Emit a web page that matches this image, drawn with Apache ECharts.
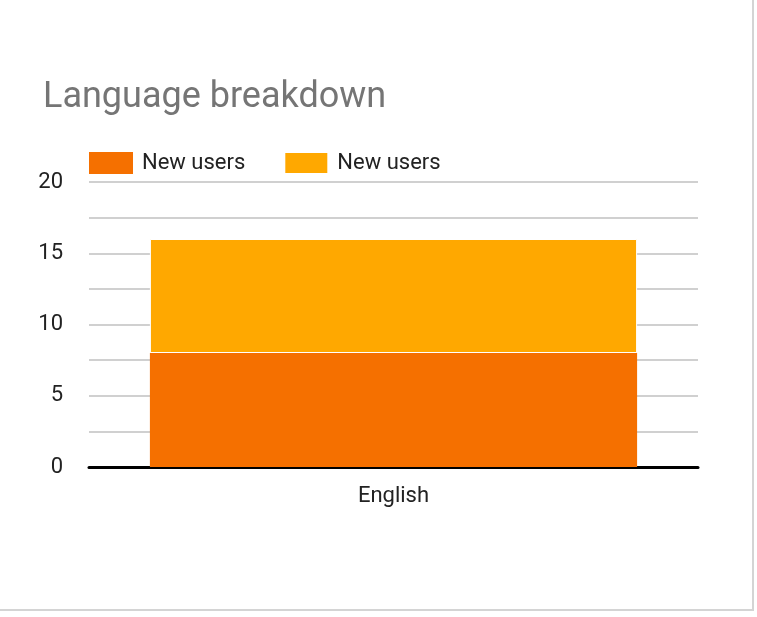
<!DOCTYPE html>
<html>
<head>
<meta charset="utf-8">
<script src="https://cdn.jsdelivr.net/npm/echarts@6/dist/echarts.min.js"></script>
<style>
  html, body { margin: 0; padding: 0; background: #fff; }
  #frame {
    position: absolute; left: 0; top: 0;
    width: 752px; height: 609px;
    border-right: 2px solid #d4d4d4;
    border-bottom: 2px solid #d4d4d4;
  }
  #chart { position: absolute; left: 0; top: 0; width: 757px; height: 617px; }
</style>
</head>
<body>
<div id="frame"></div>
<div id="chart"></div>
<script>
// data
const categories = ['English'];
const seriesLabels = ['New users', 'New users'];
const seriesColors = ['#f57000', '#ffa800'];
const seriesValues = [
    [8],   // lower segment
    [8]    // upper segment
];

const chart = echarts.init(document.getElementById('chart'));

// two series share a label, so keep the internal names distinct
const names = seriesLabels.map((s, i) => s + '#' + i);

chart.setOption({
    backgroundColor: 'transparent',
    textStyle: { fontFamily: 'Roboto' },
    title: {
        text: 'Language breakdown',
        left: 43,
        top: 80,
        padding: 0,
        textStyle: { fontSize: 36, fontWeight: 'normal', color: '#757575', fontFamily: 'Roboto' }
    },
    legend: {
        left: 89,
        top: 151,
        padding: 0,
        itemWidth: 44,
        itemHeight: 22,
        itemGap: 38,
        icon: 'rect',
        data: names,
        formatter: n => seriesLabels[names.indexOf(n)],
        textStyle: { fontSize: 22, color: '#222', padding: [2, 0, 0, 4] }
    },
    grid: { left: 89, right: 59, top: 182, bottom: 150, containLabel: false },
    xAxis: {
        type: 'category',
        data: categories,
        axisLine: { lineStyle: { color: '#000', width: 3 } },
        axisTick: { show: false },
        axisLabel: { fontSize: 22, color: '#222', margin: 18 }
    },
    yAxis: {
        type: 'value',
        min: 0,
        max: 20,
        interval: 2.5,
        axisLine: { show: false },
        axisTick: { show: false },
        axisLabel: {
            fontSize: 22, color: '#222', margin: 26,
            formatter: v => (v % 5 === 0 ? String(v) : '')
        },
        splitLine: { lineStyle: { color: '#d0d0d0', width: 2 } }
    },
    series: seriesValues.map((vals, i) => ({
        name: names[i],
        type: 'bar',
        stack: 'total',
        barWidth: '80%',
        data: vals,
        itemStyle: { color: seriesColors[i], borderColor: '#fff', borderWidth: i === 1 ? 1 : 0 },
        emphasis: { disabled: true }
    }))
});
</script>
</body>
</html>
